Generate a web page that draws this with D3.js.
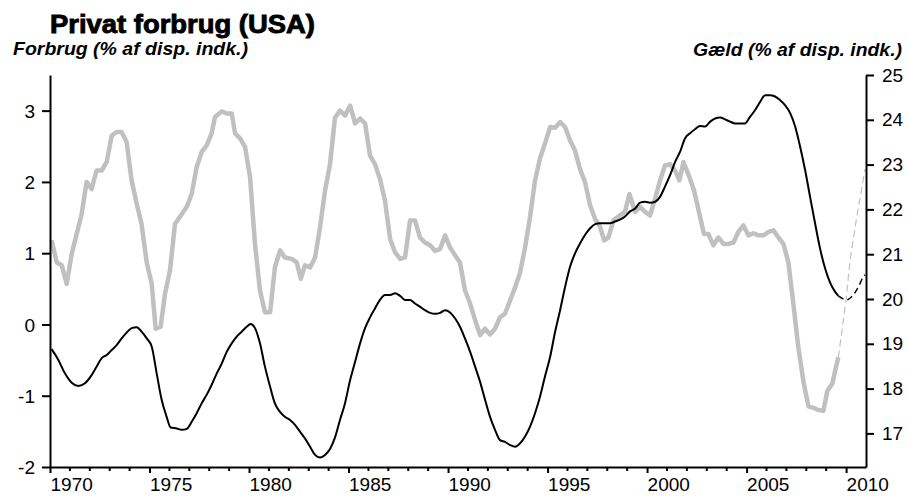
<!DOCTYPE html>
<html>
<head>
<meta charset="utf-8">
<script src="https://cdn.jsdelivr.net/npm/d3@7"></script>
<style>
  html, body { margin: 0; padding: 0; background: #fff; }
  svg { display: block; font-family: "Liberation Sans", Arial, sans-serif; }
</style>
</head>
<body>
<svg id="chart" width="908" height="496"></svg>
<script>
// ---- data ----
const titleText = "Privat forbrug (USA)";
const leftLabel = "Forbrug (% af disp. indk.)";
const rightLabel = "Gæld (% af disp. indk.)";

const xTickYears = [1970, 1975, 1980, 1985, 1990, 1995, 2000, 2005, 2010];
const xMinorYears = d3.range(1971, 2011);
const leftTicks = [-2, -1, 0, 1, 2, 3];
const rightTicks = [17, 18, 19, 20, 21, 22, 23, 24, 25];

// Forbrug (left axis), grey line: [year, value]
const forbrug = [
 [1970.08,1.18],[1970.34,0.87],[1970.59,0.83],[1970.84,0.57],[1971.09,0.99],[1971.59,1.55],[1971.84,2.0],
 [1972.09,1.90],[1972.34,2.16],[1972.6,2.16],[1972.85,2.28],[1973.1,2.65],[1973.35,2.70],[1973.6,2.70],
 [1973.85,2.56],[1974.1,2.02],[1974.36,1.69],[1974.6,1.41],[1974.86,0.87],[1975.11,0.57],[1975.31,-0.06],
 [1975.56,-0.03],[1975.78,0.43],[1976.03,0.76],[1976.28,1.41],[1976.53,1.51],[1976.87,1.65],[1977.12,1.83],
 [1977.37,2.21],[1977.62,2.42],[1977.87,2.51],[1978.12,2.68],[1978.29,2.91],[1978.63,2.99],[1978.88,2.96],
 [1979.13,2.96],[1979.3,2.68],[1979.55,2.61],[1979.8,2.49],[1980.05,2.07],[1980.3,1.13],[1980.55,0.48],
 [1980.8,0.17],[1981.06,0.17],[1981.3,0.80],[1981.56,1.04],[1981.8,0.94],[1982.14,0.92],[1982.4,0.87],
 [1982.6,0.64],[1982.81,0.83],[1983.07,0.80],[1983.32,0.94],[1983.57,1.37],[1983.82,1.88],[1984.07,2.25],
 [1984.32,2.90],[1984.57,3.0],[1984.82,2.93],[1985.08,3.07],[1985.33,2.82],[1985.58,2.89],[1985.83,2.82],
 [1986.08,2.37],[1986.33,2.25],[1986.58,2.04],[1986.83,1.74],[1987.09,1.20],[1987.34,1.01],[1987.59,0.92],
 [1987.84,0.94],[1988.09,1.46],[1988.34,1.46],[1988.59,1.22],[1988.84,1.15],[1989.1,1.11],[1989.35,1.03],
 [1989.6,1.06],[1989.85,1.25],[1990.1,1.08],[1990.35,0.97],[1990.6,0.87],[1990.85,0.48],[1991.11,0.29],
 [1991.36,0.06],[1991.61,-0.15],[1991.86,-0.06],[1992.11,-0.14],[1992.36,-0.06],[1992.61,0.10],[1992.86,0.15],
 [1993.12,0.34],[1993.37,0.52],[1993.62,0.73],[1993.87,1.08],[1994.12,1.51],[1994.37,2.02],[1994.62,2.33],
 [1994.87,2.54],[1995.13,2.77],[1995.38,2.76],[1995.63,2.84],[1995.88,2.77],[1996.13,2.58],[1996.38,2.44],
 [1996.63,2.18],[1996.88,2.0],[1997.14,1.67],[1997.39,1.48],[1997.64,1.37],[1997.84,1.18],[1998.06,1.22],
 [1998.31,1.46],[1998.64,1.53],[1998.89,1.58],[1999.11,1.83],[1999.4,1.58],[1999.65,1.65],[1999.9,1.58],
 [2000.15,1.53],[2000.4,1.76],[2000.65,2.02],[2000.9,2.23],[2001.16,2.25],[2001.41,2.16],[2001.62,2.02],
 [2001.83,2.28],[2002.07,2.11],[2002.36,1.88],[2002.63,1.55],[2002.86,1.27],[2003.08,1.27],[2003.33,1.11],
 [2003.58,1.22],[2003.84,1.13],[2004.09,1.13],[2004.34,1.15],[2004.59,1.30],[2004.84,1.39],[2005.09,1.25],
 [2005.34,1.28],[2005.59,1.25],[2005.85,1.25],[2006.1,1.30],[2006.35,1.32],[2006.6,1.22],[2006.85,1.13],
 [2007.1,0.87],[2007.35,0.29],[2007.6,-0.32],[2007.86,-0.81],[2008.11,-1.15],[2008.36,-1.17],[2008.61,-1.20],
 [2008.86,-1.21],[2009.06,-0.93],[2009.31,-0.83],[2009.45,-0.65],[2009.61,-0.46]
];
const forbrugProg = [[2009.61,-0.46],[2010.0,0.35],[2010.2,0.90],[2010.5,1.45],[2010.75,1.85],[2010.95,2.18]];

// Gæld (right axis), black line: [year, value]
const gaeld = [
 [1970.08,18.88],[1970.42,18.64],[1970.75,18.34],[1971.09,18.13],[1971.42,18.06],[1971.76,18.12],[1972.09,18.30],
 [1972.34,18.49],[1972.6,18.68],[1972.85,18.75],[1973.1,18.86],[1973.35,18.97],[1973.6,19.12],[1973.85,19.25],
 [1974.1,19.35],[1974.36,19.37],[1974.6,19.27],[1974.86,19.12],[1975.11,18.94],[1975.36,18.34],[1975.61,17.75],
 [1975.86,17.37],[1976.06,17.13],[1976.37,17.11],[1976.62,17.08],[1976.87,17.10],[1977.12,17.26],[1977.37,17.45],
 [1977.62,17.67],[1977.87,17.86],[1978.12,18.08],[1978.38,18.34],[1978.63,18.56],[1978.88,18.82],[1979.13,19.01],
 [1979.38,19.16],[1979.63,19.27],[1979.88,19.38],[1980.08,19.44],[1980.3,19.35],[1980.55,19.01],[1980.8,18.49],
 [1981.06,18.04],[1981.3,17.67],[1981.56,17.48],[1981.8,17.37],[1982.06,17.30],[1982.31,17.19],[1982.56,17.04],
 [1982.81,16.89],[1983.07,16.70],[1983.32,16.52],[1983.57,16.46],[1983.82,16.52],[1984.07,16.65],[1984.32,16.91],
 [1984.57,17.30],[1984.82,17.67],[1985.08,18.19],[1985.33,18.60],[1985.58,19.01],[1985.83,19.35],[1986.08,19.59],
 [1986.33,19.79],[1986.58,19.98],[1986.83,20.09],[1987.09,20.09],[1987.34,20.13],[1987.59,20.07],[1987.84,19.98],
 [1988.09,19.98],[1988.34,19.90],[1988.59,19.83],[1988.84,19.75],[1989.1,19.69],[1989.35,19.67],[1989.6,19.69],
 [1989.85,19.75],[1990.1,19.70],[1990.35,19.57],[1990.6,19.38],[1990.85,19.12],[1991.11,18.82],[1991.36,18.49],
 [1991.61,18.15],[1991.86,17.75],[1992.11,17.37],[1992.36,17.08],[1992.61,16.85],[1992.86,16.81],[1993.12,16.74],
 [1993.37,16.70],[1993.62,16.78],[1993.87,16.93],[1994.12,17.15],[1994.37,17.45],[1994.62,17.82],[1994.87,18.27],
 [1995.13,18.71],[1995.38,19.27],[1995.63,19.75],[1995.88,20.27],[1996.13,20.72],[1996.38,21.02],[1996.63,21.24],
 [1996.88,21.43],[1997.14,21.58],[1997.39,21.67],[1997.64,21.69],[1997.89,21.69],[1998.14,21.69],[1998.39,21.73],
 [1998.64,21.77],[1998.89,21.84],[1999.13,21.95],[1999.4,22.02],[1999.65,22.15],[1999.9,22.17],[2000.15,22.15],
 [2000.4,22.17],[2000.65,22.28],[2000.9,22.51],[2001.16,22.77],[2001.41,23.06],[2001.66,23.29],[2001.91,23.59],
 [2002.16,23.70],[2002.41,23.79],[2002.66,23.86],[2002.91,23.85],[2003.17,23.96],[2003.42,24.03],[2003.67,24.05],
 [2003.92,24.01],[2004.17,23.96],[2004.42,23.92],[2004.67,23.92],[2004.92,23.92],[2005.18,24.07],[2005.43,24.22],
 [2005.68,24.40],[2005.93,24.55],[2006.18,24.55],[2006.43,24.52],[2006.68,24.44],[2006.93,24.33],[2007.19,24.15],
 [2007.44,23.85],[2007.69,23.40],[2007.94,22.88],[2008.19,22.28],[2008.44,21.69],[2008.69,21.13],[2008.94,20.69],
 [2009.2,20.36],[2009.45,20.16],[2009.61,20.07]
];
const gaeldProg = [[2009.61,20.07],[2009.78,20.02],[2010.03,19.98],[2010.28,20.05],[2010.62,20.27],[2010.87,20.50],[2010.95,20.54]];

// ---- chart ----
const svg = d3.select("#chart");
const plot = { left: 50, right: 866, top: 75, bottom: 467 };

const x = d3.scaleLinear().domain([1970, 2011]).range([plot.left, plot.right]);
const yL = d3.scaleLinear().domain([-2, 3.5]).range([plot.bottom, plot.top]);
const yR = d3.scaleLinear().domain([16.25, 25]).range([plot.bottom, plot.top]);

const fs = "19px";

// Title + axis titles
svg.append("text").attr("x", 50).attr("y", 33)
  .attr("font-size", "26px").attr("font-weight", 900)
  .attr("stroke", "#000").attr("stroke-width", 0.9)
  .attr("textLength", 265).attr("lengthAdjust", "spacingAndGlyphs")
  .text(titleText);
svg.append("text").attr("x", 13).attr("y", 55)
  .attr("font-size", "19px").attr("font-weight", "bold").attr("font-style", "italic")
  .attr("textLength", 235).attr("lengthAdjust", "spacingAndGlyphs")
  .text(leftLabel);
svg.append("text").attr("x", 693).attr("y", 56)
  .attr("font-size", "19px").attr("font-weight", "bold").attr("font-style", "italic")
  .attr("textLength", 209).attr("lengthAdjust", "spacingAndGlyphs")
  .text(rightLabel);

// Lines
const lineL = d3.line().x(d => x(d[0])).y(d => yL(d[1]));
const lineR = d3.line().x(d => x(d[0])).y(d => yR(d[1])).curve(d3.curveMonotoneX);

svg.append("path").datum(forbrug).attr("d", lineL)
  .attr("fill", "none").attr("stroke", "#c0c0c0").attr("stroke-width", 4.5)
  .attr("stroke-linejoin", "round");
svg.append("path").datum(forbrugProg).attr("d", lineL)
  .attr("fill", "none").attr("stroke", "#c0c0c0").attr("stroke-width", 1.2)
  .attr("stroke-dasharray", "7,4");
svg.append("path").datum(gaeld).attr("d", lineR)
  .attr("fill", "none").attr("stroke", "#000").attr("stroke-width", 2)
  .attr("stroke-linejoin", "round");
svg.append("path").datum(gaeldProg).attr("d", lineR)
  .attr("fill", "none").attr("stroke", "#000").attr("stroke-width", 1.4)
  .attr("stroke-dasharray", "6,4");

// Axes
function styleAxis(g) {
  g.select(".domain").attr("stroke", "#000").attr("stroke-width", 2);
  g.selectAll(".tick line").attr("stroke", "#000").attr("stroke-width", 2);
  g.selectAll(".tick text").attr("fill", "#000").attr("font-size", fs)
    .attr("font-family", "'Liberation Sans', Arial, sans-serif");
}

const gL = svg.append("g").attr("transform", `translate(${plot.left},0)`)
  .call(d3.axisLeft(yL).tickValues(leftTicks).tickSize(8).tickSizeOuter(0).tickPadding(7).tickFormat(d => String(d)));
styleAxis(gL);
gL.selectAll(".tick text").attr("dy", "0.35em");

const gR = svg.append("g").attr("transform", `translate(${plot.right},0)`)
  .call(d3.axisRight(yR).tickValues(rightTicks).tickSize(8).tickSizeOuter(0).tickPadding(8).tickFormat(d => String(d)));
styleAxis(gR);

// minor year ticks
svg.append("g").selectAll("line").data(xMinorYears.filter(v => !xTickYears.includes(v)))
  .join("line")
  .attr("x1", d => x(d)).attr("x2", d => x(d))
  .attr("y1", plot.bottom).attr("y2", plot.bottom + 4)
  .attr("stroke", "#000").attr("stroke-width", 2);

const gB = svg.append("g").attr("transform", `translate(0,${plot.bottom})`)
  .call(d3.axisBottom(x).tickValues(xTickYears).tickSize(6).tickSizeOuter(0).tickFormat(d => String(d)));
styleAxis(gB);
gB.selectAll(".tick text").attr("text-anchor", "start").attr("x", 0).attr("y", 24).attr("dy", "0");
</script>
</body>
</html>
